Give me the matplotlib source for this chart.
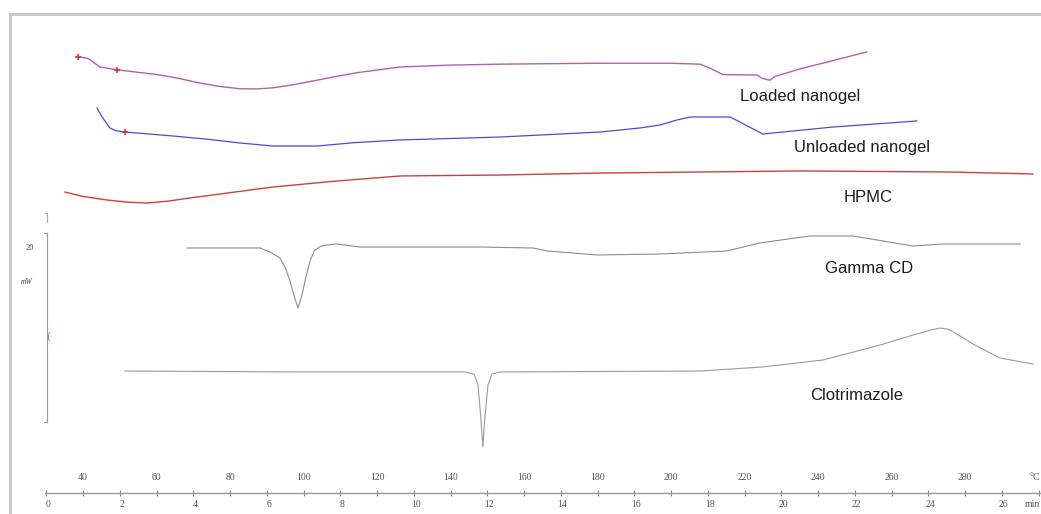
import matplotlib
matplotlib.use("Agg")
import matplotlib.pyplot as plt
from matplotlib.lines import Line2D

# DSC thermograms, temperature in degC, heat flow in mW (curves offset)
loaded_T = [38.6, 41.4, 44.6, 49.3, 60.1, 66.0, 71.8, 77.0, 82.7, 87.5, 91.7, 96.0, 101.0,
            107.5, 114.6, 126.3, 139.9, 153.5, 167.1, 180.7, 199.7, 207.9, 210.5, 214.1,
            223.4, 224.8, 226.9, 228.3, 235.1, 243.3, 253.3]
loaded_mw = [48.4, 48.2, 47.3, 47.0, 46.5, 46.1, 45.6, 45.25, 45.0, 44.98, 45.1, 45.35, 45.7,
             46.2, 46.7, 47.3, 47.5, 47.6, 47.65, 47.7, 47.7, 47.6, 47.2, 46.5,
             46.45, 46.1, 45.9, 46.3, 47.1, 47.9, 48.9]

unloaded_T = [43.8, 45.2, 47.3, 49.0, 51.4, 64.5, 74.0, 82.7, 91.7, 103.7, 114.0, 126.3,
              153.5, 180.7, 191.6, 197.0, 201.6, 205.2, 216.1, 225.0, 244.1, 266.9]
unloaded_mw = [42.96, 42.01, 40.85, 40.55, 40.42, 40.0, 39.65, 39.26, 38.94, 38.94, 39.3,
               39.58, 39.89, 40.42, 40.85, 41.16, 41.69, 42.01, 42.01, 40.21, 40.95, 41.59]

hpmc_T = [35.1, 40.0, 46.5, 52.0, 57.4, 63.0, 69.1, 80.0, 91.7, 108.0, 126.3, 153.5, 180.7,
          235.1, 275.9, 298.5]
hpmc_mw = [34.07, 33.6, 33.23, 33.0, 32.91, 33.1, 33.44, 34.0, 34.60, 35.2, 35.77, 35.87,
           36.08, 36.30, 36.19, 35.98]

gcd_T = [68.3, 88.2, 90.9, 93.6, 95.0, 96.3, 97.4, 98.5, 99.6, 100.6, 101.8, 103.0, 104.5,
         106.4, 109.1, 115.4, 148.0, 162.4, 166.3, 179.9, 197.0, 215.2, 224.2, 237.8,
         249.5, 256.0, 265.8, 274.0, 295.0]
gcd_mw = [28.15, 28.15, 27.72, 27.09, 26.1, 24.7, 23.1, 21.8, 23.2, 25.0, 26.8, 27.9, 28.3,
          28.47, 28.57, 28.25, 28.25, 28.15, 27.83, 27.41, 27.51, 27.83,
          28.68, 29.42, 29.42, 29.0, 28.36, 28.57, 28.57]

clo_T = [51.4, 99.0, 143.9, 146.4, 147.5, 148.3, 148.8, 149.3, 150.2, 151.3, 153.5, 207.9,
         225.0, 241.4, 256.9, 265.9, 270.5, 273.2, 275.5, 277.3, 282.7, 289.5, 298.5]
clo_mw = [15.13, 15.03, 15.03, 14.81, 13.65, 9.95, 7.09, 9.95, 13.65, 14.81, 15.03, 15.13,
          15.56, 16.30, 17.88, 18.94, 19.45, 19.68, 19.55, 19.15, 17.88, 16.51, 15.87]

labels = ["Loaded nanogel", "Unloaded nanogel", "HPMC", "Gamma CD", "Clotrimazole"]
label_T = [235.1, 252.0, 253.6, 253.9, 250.6]
label_mw = [44.13, 38.73, 33.54, 26.03, 12.59]

marker_T = [38.6, 49.3, 51.4]
marker_mw = [48.4, 47.0, 40.4]

temp_ticks = list(range(40, 281, 20))
time_ticks = list(range(0, 27, 2))
scale_mw = 20
T_START = 30.5   # temperature at t = 0 min
RATE = 10.0      # degC / min

fig = plt.figure(figsize=(10.41, 5.14), dpi=100)
ax = fig.add_axes([0, 0, 1, 1])
ax.set_xlim(17.415, 300.68)
ax.set_ylim(0, 54.39)
ax.set_facecolor("white")

ax.plot(loaded_T, loaded_mw, color="#b060a8", lw=1.0)
ax.plot(unloaded_T, unloaded_mw, color="#4a4ad8", lw=0.9)
ax.plot(hpmc_T, hpmc_mw, color="#c84040", lw=1.0)
ax.plot(gcd_T, gcd_mw, color="#8c8c8c", lw=0.8)
ax.plot(clo_T, clo_mw, color="#9a9a9a", lw=0.8)
ax.plot(marker_T, marker_mw, ls="none", marker="+", color="#e03040", ms=5, mew=1.2)

for lab, tx, ty in zip(labels, label_T, label_mw):
    ax.text(tx, ty, lab, ha="center", va="center", fontsize=12,
            family="Liberation Sans", color="#1a1a2a")

# 20 mW scale bar
bar_x = 30.2
bar_y0 = 9.74
ax.plot([bar_x - 0.8, bar_x, bar_x, bar_x - 0.8], [bar_y0, bar_y0, bar_y0 + scale_mw, bar_y0 + scale_mw],
        color="#999999", lw=0.8)
ax.plot([bar_x - 0.6, bar_x, bar_x], [31.9, 31.9, 30.9], color="#aaaaaa", lw=0.8)
ax.text(bar_x + 0.3, 18.8, "(", color="#d06070", fontsize=7, ha="center", va="center")
ax.text(25.6, 28.15, str(scale_mw), fontsize=6, family="Liberation Serif", color="#444444",
        ha="center", va="center")
ax.text(24.6, 24.6, "mW", fontsize=5.5, family="Liberation Serif", style="italic",
        color="#444444", ha="center", va="center")

# temperature / time axis
AXIS_Y = 2.22
for s in ["left", "right", "bottom"]:
    ax.spines[s].set_visible(False)
ax.spines["top"].set_position(("data", AXIS_Y))
ax.spines["top"].set_bounds(29.6, 300.68)
ax.spines["top"].set_color("#999999")
ax.spines["top"].set_linewidth(1.0)
ax.spines["top"].set_linestyle((0, (2, 1)))
ax.yaxis.set_visible(False)
ax.xaxis.set_ticks_position("top")
ax.set_xticks(temp_ticks)
ax.set_xticks(range(30, 301, 10), minor=True)
ax.tick_params(axis="x", which="both", direction="inout", length=4, width=0.8,
               color="#888888", labeltop=True, labelbottom=False, pad=6,
               labelsize=7, labelcolor="#555555")
for t in ax.get_xticklabels():
    t.set_family("Liberation Serif")
ax.text(300.5, 3.81, "°C", fontsize=7, family="Liberation Serif", color="#555555",
        ha="right", va="center")

sec = ax.secondary_xaxis(AXIS_Y / 54.39,
                         functions=(lambda T: (T - T_START) / RATE,
                                    lambda t: T_START + RATE * t))
sec.set_xticks(time_ticks)
sec.tick_params(length=0, pad=5, labelsize=7, labelcolor="#555555")
for t in sec.get_xticklabels():
    t.set_family("Liberation Serif")
for s in sec.spines.values():
    s.set_visible(False)
ax.text(300.5, 1.0, "min", fontsize=7, family="Liberation Serif", color="#555555",
        ha="right", va="center")

# scanned page frame
fig.add_artist(Line2D([10 / 1041, 1], [1 - 14 / 514, 1 - 14 / 514], color="#c4c4c4", lw=2))
fig.add_artist(Line2D([10 / 1041, 10 / 1041], [0, 1 - 14 / 514], color="#c4c4c4", lw=2))

fig.savefig("out.png", dpi=100)
